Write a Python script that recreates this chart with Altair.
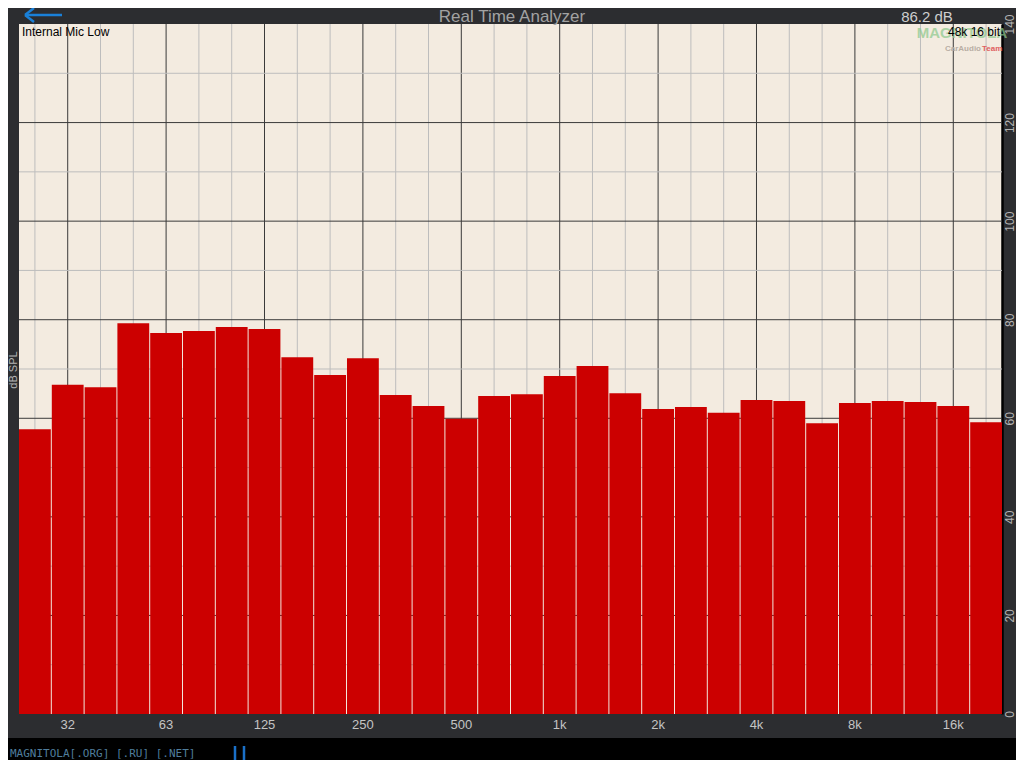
import altair as alt
import pandas as pd

# 1/3-octave band centres (Hz)
bands = ["25", "31.5", "40", "50", "63", "80", "100", "125", "160", "200",
         "250", "315", "400", "500", "630", "800", "1k", "1.25k", "1.6k", "2k",
         "2.5k", "3.15k", "4k", "5k", "6.3k", "8k", "10k", "12.5k", "16k", "20k"]
# levels in dB SPL
levels = [57.8, 66.8, 66.3, 79.3, 77.3, 77.7, 78.5, 78.1, 72.4, 68.8,
          72.2, 64.7, 62.5, 59.9, 64.5, 64.9, 68.6, 70.6, 65.1, 61.9,
          62.3, 61.1, 63.7, 63.5, 59.0, 63.1, 63.5, 63.3, 62.5, 59.2]
# axis labels shown under octave bands
tick_labels = ["", "32", "", "", "63", "", "", "125", "", "",
               "250", "", "", "500", "", "", "1k", "", "", "2k",
               "", "", "4k", "", "", "8k", "", "", "16k", ""]
octave = [l != "" for l in tick_labels]
y_ticks = [0, 20, 40, 60, 80, 100, 120, 140]
h_grid = [10, 20, 30, 40, 50, 60, 70, 80, 90, 100, 110, 120, 130]

FONT = "Liberation Sans"
BG = "#2c2d30"

df = pd.DataFrame({"band": bands, "level": levels, "label": tick_labels,
                   "octave": octave})
hg = pd.DataFrame({"v": h_grid, "dark": [v % 20 == 0 for v in h_grid]})

xenc = alt.X("band:N", sort=bands, axis=None,
             scale=alt.Scale(paddingInner=0.03, paddingOuter=0))
yscale = alt.Scale(domain=[0, 140], nice=False, zero=True)
yaxis = alt.Axis(orient="right", values=y_ticks, grid=False, ticks=False,
                 domainColor="black", domainWidth=2.5, labelAngle=270,
                 labelAlign="center", labelBaseline="top", labelPadding=2,
                 labelColor="#b4b4b4", labelFontSize=12, labelFont=FONT,
                 title=None)

vgrid = alt.Chart(df).mark_rule(strokeWidth=1).encode(
    x=xenc,
    color=alt.condition("datum.octave", alt.value("#3a3a3a"), alt.value("#bdbdbd")),
)
hgrid = alt.Chart(hg).mark_rule(strokeWidth=1).encode(
    y=alt.Y("v:Q", scale=yscale, axis=yaxis),
    color=alt.condition("datum.dark", alt.value("#3a3a3a"), alt.value("#bdbdbd")),
)

bars = alt.Chart(df).mark_bar(color="#cc0000").encode(
    x=xenc,
    y=alt.Y("level:Q", scale=yscale, axis=yaxis),
)

xlabels = alt.Chart(df).mark_text(font=FONT, fontSize=13, color="#c4c4c4").encode(
    x=xenc, y=alt.value(701), text="label:N")

def txt(s, x, y, font=FONT, **kw):
    return alt.Chart(pd.DataFrame({"t": [s]})).mark_text(font=font, **kw).encode(
        x=alt.value(x), y=alt.value(y), text="t:N")

def seg(x, y, x2, y2, color, w):
    return alt.Chart(pd.DataFrame({"a": [0]})).mark_rule(color=color, strokeWidth=w).encode(
        x=alt.value(x), y=alt.value(y), x2=alt.value(x2), y2=alt.value(y2))

bottom_strip = alt.Chart(pd.DataFrame({"a": [0]})).mark_rect(color="black").encode(
    x=alt.value(-19), x2=alt.value(1010), y=alt.value(714), y2=alt.value(740))

layers = [
    vgrid, hgrid, bars, xlabels, bottom_strip,
    txt("MAGNITOLA", 943, 9, fontSize=15, fontWeight="bold", color="#8cc88c",
        opacity=0.7),
    txt("Real Time Analyzer", 493, -7, fontSize=17, color="#a2a2a2"),
    txt("86.2 dB", 908, -7, fontSize=15, color="#cfcfcf"),
    txt("dB SPL", -5, 346, fontSize=11, color="#b4b4b4", angle=270),
    txt("Internal Mic Low", 3, 8, fontSize=12, color="black", align="left"),
    txt("48k 16 bit", 981, 8, fontSize=12, color="black", align="right"),
    txt("CarAudio", 962, 25, fontSize=8, fontWeight="bold", color="#b8aea4", align="right"),
    txt("Team", 963, 25, fontSize=8, fontWeight="bold", color="#e06060", align="left"),
    txt("MAGNITOLA[.ORG] [.RU] [.NET]", -9, 730, fontSize=11, color="#4f7d9c",
        align="left", font="DejaVu Sans Mono"),
    seg(216, 722, 216, 738, "#1a70c8", 2.5),
    seg(225, 722, 225, 738, "#1a70c8", 2.5),
    seg(6, -9, 43, -9, "#1a80d8", 2.5),
    seg(6, -9, 15, -16, "#1a80d8", 2.5),
    seg(6, -9, 15, -2, "#1a80d8", 2.5),
]

chart = alt.layer(*layers).properties(
    width=983, height=690,
    padding={"left": 11, "top": 16, "right": 14, "bottom": 46},
    autosize=alt.AutoSizeParams(type="none"),
    background=BG,
).configure_view(fill="#f3ebe0", strokeWidth=0)

chart.save("out.html", embed_options={"renderer": "svg", "actions": False})
